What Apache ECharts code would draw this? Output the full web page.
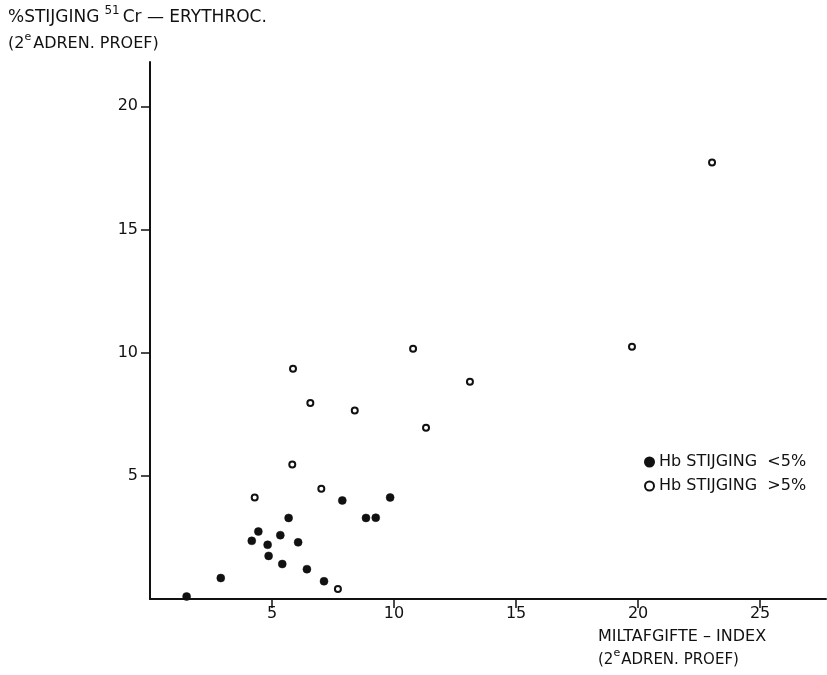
<!DOCTYPE html>
<html>
<head>
<meta charset="utf-8">
<script src="https://cdn.jsdelivr.net/npm/echarts@6/dist/echarts.min.js"></script>
<style>
  html, body { margin: 0; padding: 0; background: #fff; }
  #chart { width: 827px; height: 675px; }
</style>
</head>
<body>
<div id="chart"></div>
<script>
// Spleen-release index vs. rise in 51Cr-labelled erythrocytes (second adrenaline test)
const lowX  = [1.5, 2.9, 4.17, 4.44, 4.82, 4.86, 5.34, 5.42, 5.68, 6.07, 6.43, 7.13, 7.88, 8.85, 9.25, 9.84];
const lowY  = [0.1, 0.85, 2.36, 2.74, 2.2, 1.75, 2.59, 1.42, 3.29, 2.3, 1.21, 0.72, 4.0, 3.29, 3.3, 4.12];
const highX = [4.29, 5.83, 6.57, 8.39, 7.02, 7.7, 5.86, 10.78, 13.11, 11.31, 19.75, 23.03];
const highY = [4.12, 5.46, 7.96, 7.65, 4.48, 0.41, 9.35, 10.16, 8.82, 6.95, 10.24, 17.72];

const xTicks = [5, 10, 15, 20, 25];
const yTicks = [5, 10, 15, 20];

const seriesNames = ['Hb STIJGING  <5%', 'Hb STIJGING  >5%'];

const FONT = '"DejaVu Sans", "Liberation Sans", sans-serif';
const INK = '#111';

const zip = (xs, ys) => xs.map((x, i) => [x, ys[i]]);

const chart = echarts.init(document.getElementById('chart'), null, { renderer: 'canvas' });

const axisCommon = {
  min: 0,
  interval: 5,
  splitLine: { show: false },
  axisLine: { onZero: false, lineStyle: { color: INK, width: 2 } },
  axisTick: { inside: false, length: 9, lineStyle: { color: INK, width: 1.5 } },
  axisLabel: { color: INK, fontSize: 16, fontFamily: FONT }
};

// Lay out a title line made of normal and superscript pieces, left to right.
const measureCtx = document.createElement('canvas').getContext('2d');
function titleLine(x, y, size, pieces) {
  const out = [];
  let cx = x;
  pieces.forEach(function (p) {
    const fs = p.sup ? Math.round(size * 0.7) : size;
    const font = fs + 'px ' + FONT;
    measureCtx.font = font;
    out.push({
      type: 'text', x: cx, y: p.sup ? y - 7 : y, silent: true,
      style: { text: p.t, fill: INK, font: font, textVerticalAlign: 'middle', textAlign: 'left' }
    });
    cx += measureCtx.measureText(p.t).width + (p.gap || 0);
  });
  return out;
}

chart.setOption({
  animation: false,
  backgroundColor: '#fff',
  grid: { left: 150, top: 62, right: 1, bottom: 76, containLabel: false },
  xAxis: Object.assign({}, axisCommon, {
    type: 'value',
    max: 27.7,
    axisTick: Object.assign({}, axisCommon.axisTick, { customValues: xTicks }),
    axisLabel: Object.assign({}, axisCommon.axisLabel, { customValues: xTicks, margin: 7 })
  }),
  yAxis: Object.assign({}, axisCommon, {
    type: 'value',
    max: 21.8,
    axisTick: Object.assign({}, axisCommon.axisTick, { customValues: yTicks }),
    axisLabel: Object.assign({}, axisCommon.axisLabel, { customValues: yTicks, margin: 12 })
  }),
  legend: {
    orient: 'vertical',
    left: 639,
    top: 449,
    itemWidth: 9,
    itemHeight: 9,
    itemGap: 8,
    textStyle: { color: INK, fontSize: 16, fontFamily: FONT },
    data: [
      { name: seriesNames[0], icon: 'circle' },
      { name: seriesNames[1], icon: 'circle' }
    ]
  },
  series: [
    {
      name: seriesNames[0],
      type: 'scatter',
      symbol: 'circle',
      symbolSize: 8,
      itemStyle: { color: INK, borderColor: INK, borderWidth: 0.5, opacity: 1 },
      data: zip(lowX, lowY)
    },
    {
      name: seriesNames[1],
      type: 'scatter',
      symbol: 'circle',
      symbolSize: 6,
      itemStyle: { color: '#fff', borderColor: INK, borderWidth: 2, opacity: 1 },
      data: zip(highX, highY)
    }
  ],
  graphic: [].concat(
    // y-axis title
    titleLine(8, 18, 17, [{ t: '%STIJGING', gap: 5 }, { t: '51', sup: true, gap: 3 }, { t: 'Cr — ERYTHROC.' }]),
    titleLine(8, 44, 16, [{ t: '(2' }, { t: 'e', sup: true, gap: 2 }, { t: 'ADREN. PROEF)' }]),
    // x-axis title
    titleLine(598, 637, 16, [{ t: 'MILTAFGIFTE – INDEX' }]),
    titleLine(598, 660, 15, [{ t: '(2' }, { t: 'e', sup: true, gap: 1 }, { t: 'ADREN. PROEF)' }])
  )
});
</script>
</body>
</html>
